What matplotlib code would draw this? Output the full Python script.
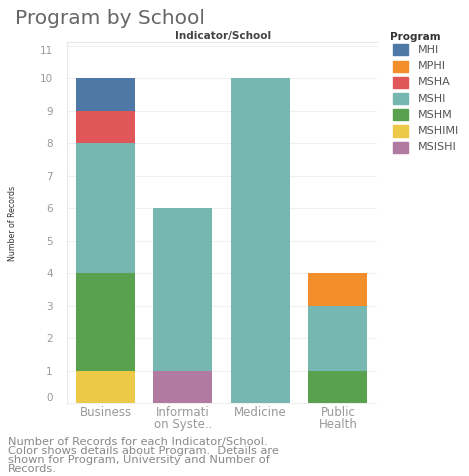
import matplotlib.pyplot as plt
import numpy as np

schools = ["Business", "Informati\non Syste..", "Medicine", "Public\nHealth"]
programs = ["MHI", "MPHI", "MSHA", "MSHI", "MSHM", "MSHIMI", "MSISHI"]
colors = ["#4E79A7", "#F28E2B", "#E15759", "#76B7B2", "#59A14F", "#EDC948", "#B07AA1"]
# records per program, one value per school
counts = {
    "MHI":    [1, 0, 0, 0],
    "MPHI":   [0, 0, 0, 1],
    "MSHA":   [1, 0, 0, 0],
    "MSHI":   [4, 5, 10, 2],
    "MSHM":   [3, 0, 0, 1],
    "MSHIMI": [1, 0, 0, 0],
    "MSISHI": [0, 1, 0, 0],
}
stack_order = ["MSISHI", "MSHIMI", "MSHM", "MSHI", "MSHA", "MPHI", "MHI"]

fig = plt.figure(figsize=(4.69, 4.76), dpi=100)
ax = fig.add_axes([0.1422, 0.1498, 0.661, 0.7626])

x = np.arange(len(schools))
bottom = np.zeros(len(schools))
for p in stack_order:
    v = np.array(counts[p], dtype=float)
    ax.bar(x, v, bottom=bottom, width=0.76, color=colors[programs.index(p)], zorder=3)
    bottom += v

ax.set_xlim(-0.5, len(schools) - 0.5)
ax.set_ylim(-0.05, 11.12)
ax.set_yticks(range(0, 12))
ax.set_xticks(x)
ax.set_xticklabels(schools, color="#999999", fontsize=8.5, linespacing=0.9)
ax.tick_params(axis="y", colors="#999999", labelsize=7.5, length=0, pad=10)
ax.tick_params(axis="x", length=0, pad=1)
ylabels = ax.get_yticklabels()
ylabels[0].set_va("bottom")
ylabels[-1].set_va("top")
ax.grid(axis="y", color="#f0f0f0", linewidth=0.8, zorder=0)
for s in ["left", "right", "bottom"]:
    ax.spines[s].set_visible(False)
ax.spines["top"].set_color("#e6e6e6")
ax.axhline(-0.05, color="#e0e0e0", linewidth=0.8)
ax.axvline(-0.5, color="#e8e8e8", linewidth=0.8)
ax.set_ylabel("Number of Records", fontsize=6.3, color="#333333",
              fontstretch="condensed", labelpad=16)

fig.text(15 / 469, 1 - 18 / 476, "Program by School", fontsize=14.5, color="#666666", va="center")
fig.text(0.475, 1 - 36 / 476, "Indicator/School", fontsize=7.5, color="#444444",
         fontweight="bold", ha="center", va="center")

# legend
fig.text(390 / 469, 1 - 37 / 476, "Program", fontsize=7.5, color="#333333",
         fontweight="bold", va="center")
for i, (p, c) in enumerate(zip(programs, colors)):
    yc = 1 - (50 + i * 16.2) / 476
    fig.patches.append(plt.Rectangle((393 / 469, yc - 5.5 / 476), 15 / 469, 11 / 476,
                                     transform=fig.transFigure, color=c))
    fig.text(418 / 469, yc, p, fontsize=8, color="#555555", va="center")

fig.text(8 / 469, 1 - 474 / 476,
         "Number of Records for each Indicator/School.\n"
         "Color shows details about Program.  Details are\n"
         "shown for Program, University and Number of\n"
         "Records.",
         fontsize=8.2, color="#888888", va="bottom", linespacing=0.86)

fig.savefig("out.png", dpi=100)
